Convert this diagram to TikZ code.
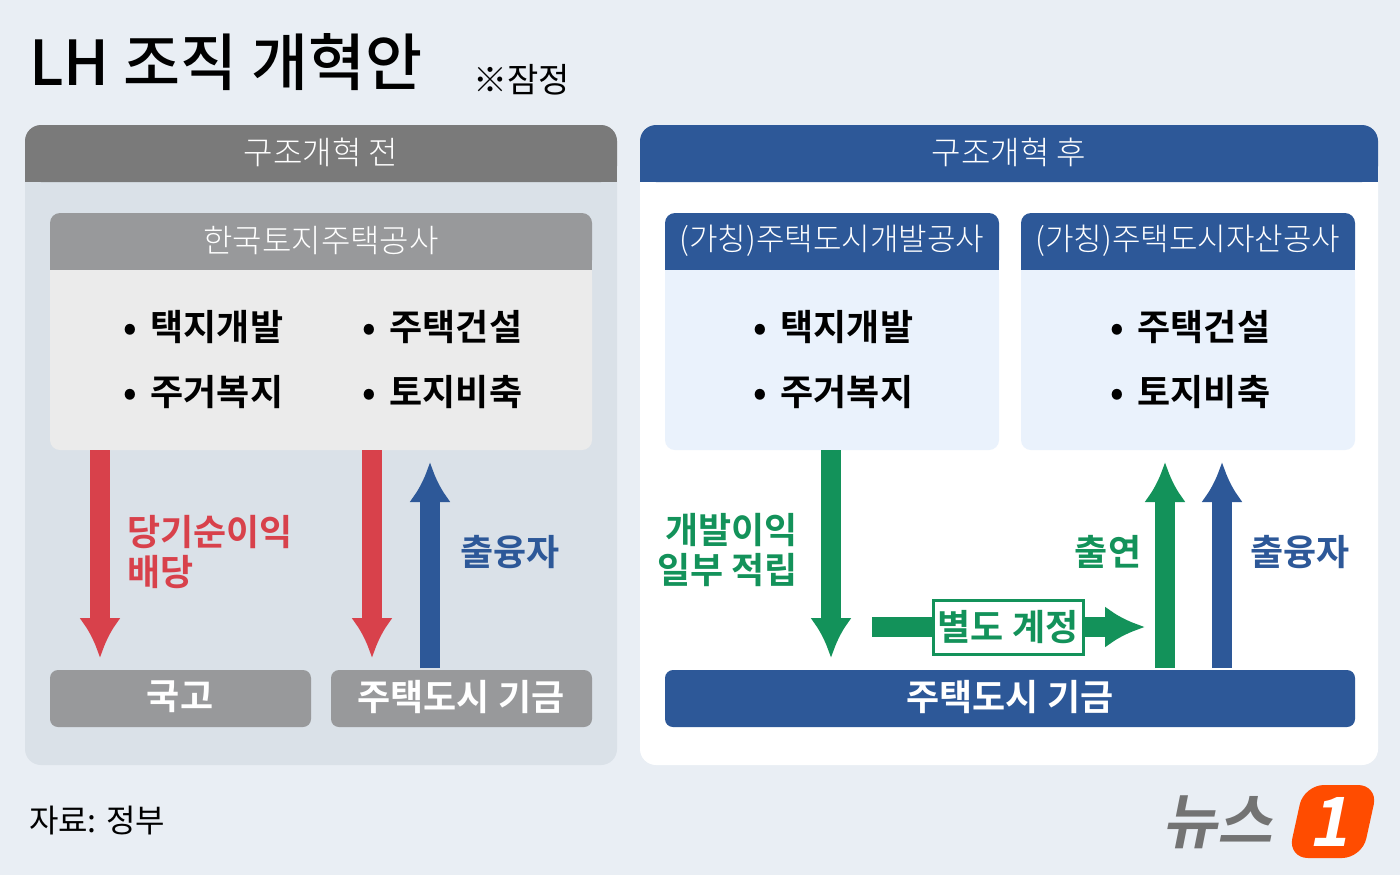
\documentclass[tikz,border=0pt]{standalone}
\usepackage{fontspec}
\setmainfont{Noto Sans CJK KR}[BoldFont={* Bold}]
\newfontfamily\lightf{Noto Sans CJK KR Light}
\newfontfamily\medf{Noto Sans CJK KR Medium}
\newcommand\bt{•\hspace{7pt}}
\begin{document}
\begin{tikzpicture}[x=0.5pt,y=-0.5pt,
 hdr/.style={text=white,font=\lightf\fontsize{16}{16}\selectfont},
 bhdr/.style={text=white,font=\bfseries\fontsize{18}{18}\selectfont},
 bul/.style={font=\bfseries\fontsize{18}{18}\selectfont,anchor=west},
 lab/.style={font=\bfseries\fontsize{18}{22}\selectfont,align=left},
 arr/.style={line width=10pt,-{Latex[length=20pt,width=21pt]}}]
\usetikzlibrary{arrows.meta}
\definecolor{bg}{HTML}{E9EEF4}
\definecolor{lp}{HTML}{DAE1E8}
\definecolor{gh}{HTML}{7A7A7A}
\definecolor{gb}{HTML}{98999B}
\definecolor{bb}{HTML}{2D5898}
\definecolor{lb}{HTML}{EAF2FC}
\definecolor{rd}{HTML}{D8414B}
\definecolor{gr}{HTML}{13925A}
\definecolor{bl}{HTML}{2D5898}
\useasboundingbox (0,0) rectangle (1400,875);
\fill[bg] (0,0) rectangle (1400,875);
\node[font=\medf\fontsize{31}{31}\selectfont,anchor=west] (title) at (22,62) {LH 조직 개혁안};
\node[font=\fontsize{17}{17}\selectfont,anchor=west] (note) at (466,80) {※잠정};
% left panel
\fill[lp,rounded corners=8] (25,125) rectangle (617,765);
\fill[gh,rounded corners=8] (25,125) rectangle (617,182);
\fill[gh] (25,160) rectangle (617,182);
\node[hdr] (lh) at (321,152) {구조개혁 전};
\fill[gb,rounded corners=5] (50,213) rectangle (592,270);
\fill[gb] (50,250) rectangle (592,270);
\fill[black!8,rounded corners=5] (50,270) rectangle (592,450);
\fill[black!8] (50,270) rectangle (592,290);
\node[hdr] (lht) at (321,241) {한국토지주택공사};
\node[bul] (b1) at (116,327) {\bt 택지개발};
\node[bul] (b2) at (116,392) {\bt 주거복지};
\node[bul] (b3) at (355,327) {\bt 주택건설};
\node[bul] (b4) at (355,392) {\bt 토지비축};
\fill[gb,rounded corners=4] (50,670) rectangle (311,727);
\node[bhdr] (kg) at (180,697) {국고};
\fill[gb,rounded corners=4] (331,670) rectangle (592,727);
\node[bhdr] (fund1) at (461,697) {주택도시 기금};
\draw[arr,rd] (100,450) -- (100,658);
\draw[arr,rd] (372,450) -- (372,658);
\draw[arr,bl] (430,668) -- (430,462);
\node[lab,text=rd,anchor=west] (l1) at (120,552) {당기순이익\\[-2pt]배당};
\node[lab,text=bl] (l2) at (510,552) {출융자};
% right panel
\fill[white,rounded corners=8] (640,125) rectangle (1378,765);
\fill[bb,rounded corners=8] (640,125) rectangle (1378,182);
\fill[bb] (640,160) rectangle (1378,182);
\node[hdr] (rh) at (1009,152) {구조개혁 후};
\foreach \x/\t/\n in {665/(가칭)주택도시개발공사/ra, 1021/(가칭)주택도시자산공사/rb}{
 \fill[bb,rounded corners=5] (\x,213) rectangle (\x+334,270);
 \fill[bb] (\x,250) rectangle (\x+334,270);
 \fill[lb,rounded corners=5] (\x,270) rectangle (\x+334,450);
 \fill[lb] (\x,270) rectangle (\x+334,290);
 \node[hdr,font=\lightf\fontsize{15.5}{16}\selectfont] (\n) at (\x+167,241) {\t};
}
\node[bul] (c1) at (746,327) {\bt 택지개발};
\node[bul] (c2) at (746,392) {\bt 주거복지};
\node[bul] (c3) at (1103,327) {\bt 주택건설};
\node[bul] (c4) at (1103,392) {\bt 토지비축};
\fill[bb,rounded corners=4] (665,670) rectangle (1355,727);
\node[bhdr] (fund2) at (1010,697) {주택도시 기금};
\draw[arr,gr] (831,450) -- (831,658);
\draw[arr,gr] (872,627) -- (1145,627);
\draw[arr,gr] (1165,668) -- (1165,462);
\draw[arr,bl] (1222,668) -- (1222,462);
\node[draw=gr,line width=1.5pt,fill=white,text=gr,font=\bfseries\fontsize{18}{18}\selectfont,minimum width=75pt,minimum height=27pt,inner sep=0pt] (acc) at (1008,627) {별도 계정};
\node[lab,text=gr,align=right,anchor=east] (l3) at (805,550) {개발이익\\[-2pt]일부 적립};
\node[lab,text=gr] (l4) at (1108,552) {출연};
\node[lab,text=bl] (l5) at (1300,552) {출융자};
% footer
\node[font=\fontsize{16}{16}\selectfont,anchor=west] (src) at (22,820) {자료: 정부};
\node[font=\bfseries\fontsize{30}{30}\selectfont,text=black!55,xslant=0.2] (logo) at (1222,822) {뉴스};
\fill[orange!60!red,rounded corners=10] (1304,785) -- (1378,785) -- (1362,858) -- (1288,858) -- cycle;
\node[font=\bfseries\fontsize{34}{34}\selectfont,text=white,xslant=0.2] (one) at (1333,822) {1};
\end{tikzpicture}
\end{document}
